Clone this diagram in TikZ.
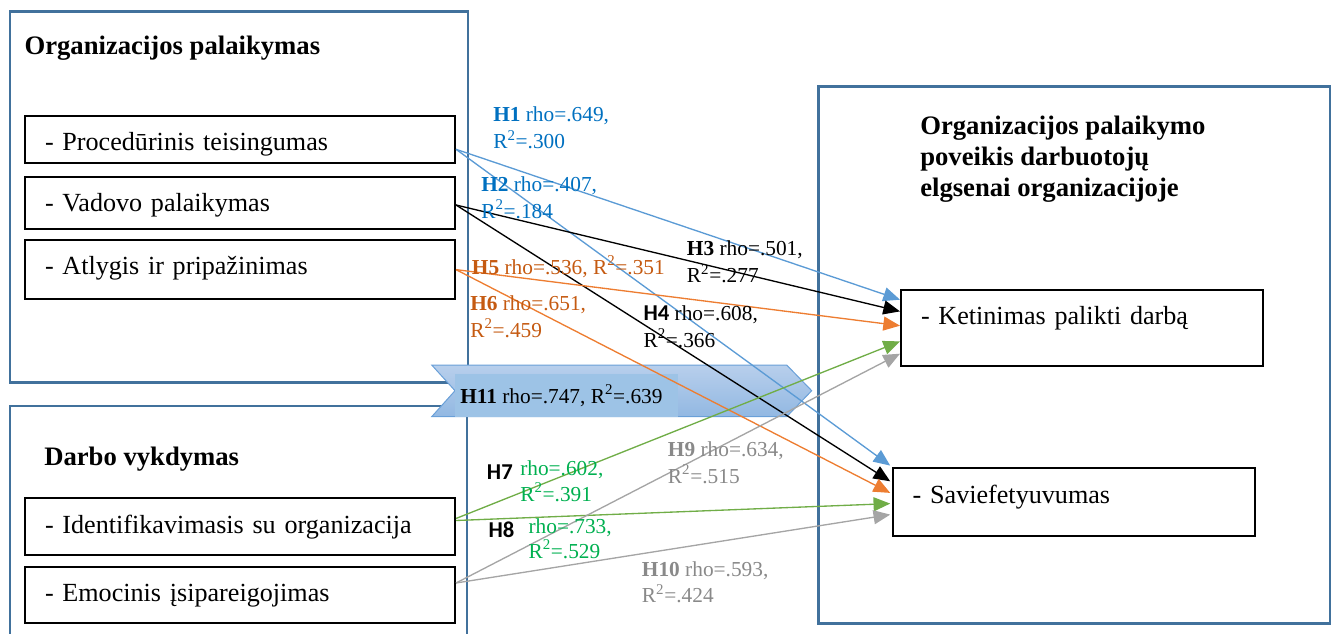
\documentclass[tikz,border=0pt]{standalone}
\usepackage{fontspec}
\setmainfont{Liberation Serif}
\newfontfamily\hsans{Carlito}
\usetikzlibrary{arrows.meta,calc}
\definecolor{frameblue}{RGB}{65,113,156}
\definecolor{lblue}{RGB}{91,155,213}
\definecolor{tblue}{RGB}{0,112,192}
\definecolor{lorange}{RGB}{237,125,49}
\definecolor{torange}{RGB}{197,90,17}
\definecolor{lgreen}{RGB}{112,173,71}
\definecolor{tgreen}{RGB}{0,176,80}
\definecolor{lgray}{RGB}{165,165,165}
\definecolor{tgray}{RGB}{137,137,137}
\definecolor{bannertop}{RGB}{184,207,236}
\definecolor{bannerbot}{RGB}{146,184,226}
\definecolor{bannerin}{RGB}{157,195,230}
\definecolor{bannerline}{RGB}{106,160,216}
\newcommand{\Rsq}{R\textsuperscript{2}}
\begin{document}
\begin{tikzpicture}[x=0.75pt,y=-0.75pt,
  frame/.style={draw=frameblue,line width=2.2pt},
  box/.style={draw=black,line width=1.5pt,inner ysep=0pt,inner xsep=15pt,anchor=base west,text height=26.25pt,align=left,font=\fontsize{19.6}{24}\selectfont},
  ttl/.style={anchor=base west,inner sep=0pt,font=\fontsize{20}{24}\selectfont\bfseries},
  lab/.style={anchor=base west,inner sep=0pt,font=\fontsize{16}{20}\selectfont},
  hs/.style={anchor=base west,inner sep=0pt,font=\fontsize{17}{20}\selectfont\hsans\bfseries},
  conn/.style={line width=1pt,-{Triangle[length=12.5pt,width=10.5pt]}},
]
\useasboundingbox (0,0) rectangle (1333,634);

% frames
\draw[frame] (10,11.5) rectangle (468,382.7);
\draw[frame] (10,645) -- (10,406) -- (467,406) -- (467,645);
\draw[frame] (818.3,86.7) rectangle (1330,623.3);

% banner
\path[top color=bannertop,bottom color=bannerbot,draw=bannerline,line width=0.75pt]
  (431.7,365) -- (786.7,365) -- (811.7,390.7) -- (786.7,416.7) -- (431.7,416.7) -- (455,390.7) -- cycle;
\fill[bannerin] (455,374) rectangle (677.5,417.3);
\node[lab] (h11) at (460,403.3) {\textbf{H11} rho=.747, \Rsq=.639};

% titles
\node[ttl] (t1) at (24.3,55) {Organizacijos palaikymas};
\node[ttl] (t2) at (44,465) {Darbo vykdymas};
\node[ttl] (t3a) at (920,135) {Organizacijos palaikymo};
\node[ttl] (t3b) at (920,166) {poveikis darbuotojų};
\node[ttl] (t3c) at (920,196.7) {elgsenai organizacijoje};

% boxes
\node[box,text width=292.5pt,text depth=9.45pt] (b1) at (24,150.7) {- Procedūrinis teisingumas};
\node[box,text width=292.5pt,text depth=13.2pt] (b2) at (24,211.7) {- Vadovo palaikymas};
\node[box,text width=292.5pt,text depth=18.2pt] (b3) at (24,275) {- Atlygis ir pripažinimas};
\node[box,text width=292.5pt,text depth=16.5pt] (b4) at (24,533) {- Identifikavimasis su organizacija};
\node[box,text width=292.5pt,text depth=16.2pt] (b5) at (24,601.7) {- Emocinis įsipareigojimas};
\node[box,text width=241.7pt,text depth=30.5pt] (K) at (900,325) {- Ketinimas palikti darbą};
\node[box,text width=242pt,text depth=24.3pt] (S) at (891.7,503.3) {- Saviefetyuvumas};

% connectors
\draw[conn,lblue] ($(b1.south east)+(0,-15)$) -- ($(K.north west)+(0,10.7)$);
\draw[conn,lblue] ($(b1.south east)+(0,-15)$) -- ($(S.north west)+(-1.5,-1.7)$);
\draw[conn,black] ($(b2.east)+(0,2)$) -- ($(K.north west)+(0,22.4)$);
\draw[conn,black] ($(b2.east)+(0,2)$) -- ($(S.north west)+(-1.5,14)$);
\draw[conn,lorange] (b3.east) -- ($(K.north west)+(0,36.7)$);
\draw[conn,lorange] (b3.east) -- ($(S.north west)+(-1.5,25.6)$);
\draw[conn,lgreen] ($(b4.east)+(0,-8)$) -- ($(K.north west)+(0,52.4)$);
\draw[conn,lgreen] ($(b4.east)+(0,-6)$) -- ($(S.north west)+(-1.5,36.3)$);
\draw[conn,lgray] ($(b5.east)+(0,-12)$) -- ($(K.north west)+(0,64.7)$);
\draw[conn,lgray] ($(b5.east)+(0,-12)$) -- ($(S.north west)+(-1.5,47.3)$);

% labels
\node[lab,text=tblue] (l1a) at (493,122) {\textbf{H1} rho=.649,};
\node[lab,text=tblue] (l1b) at (493,149) {\Rsq=.300};
\node[lab,text=tblue] (l2a) at (481,191.7) {\textbf{H2} rho=.407,};
\node[lab,text=tblue] (l2b) at (481,218.3) {\Rsq=.184};
\node[lab] (l3a) at (686.7,255.7) {\textbf{H3} rho=.501,};
\node[lab] (l3b) at (686.7,282.7) {\Rsq=.277};
\node[lab] (l4a) at (643.3,320.7) {{\fontsize{17}{20}\hsans\bfseries H4} rho=.608,};
\node[lab] (l4b) at (643.3,347.3) {\Rsq=.366};
\node[lab,text=torange] (l5) at (471.7,274.3) {\textbf{H5} rho=.536, \Rsq=.351};
\node[lab,text=torange] (l6a) at (470,310.7) {\textbf{H6} rho=.651,};
\node[lab,text=torange] (l6b) at (470,337.3) {\Rsq=.459};
\node[hs] (l7h) at (486.7,479) {H7};
\node[lab,text=tgreen] (l7a) at (520,475) {rho=.602,};
\node[lab,text=tgreen] (l7b) at (520,501) {\Rsq=.391};
\node[hs] (l8h) at (488.3,537) {H8};
\node[lab,text=tgreen] (l8a) at (528.3,533.3) {rho=.733,};
\node[lab,text=tgreen] (l8b) at (528.3,558.3) {\Rsq=.529};
\node[lab,text=tgray] (l9a) at (667.7,456.7) {\textbf{H9} rho=.634,};
\node[lab,text=tgray] (l9b) at (667.7,483.3) {\Rsq=.515};
\node[lab,text=tgray] (l10a) at (641.7,576.7) {\textbf{H10} rho=.593,};
\node[lab,text=tgray] (l10b) at (641.7,602.7) {\Rsq=.424};
\end{tikzpicture}
\end{document}
